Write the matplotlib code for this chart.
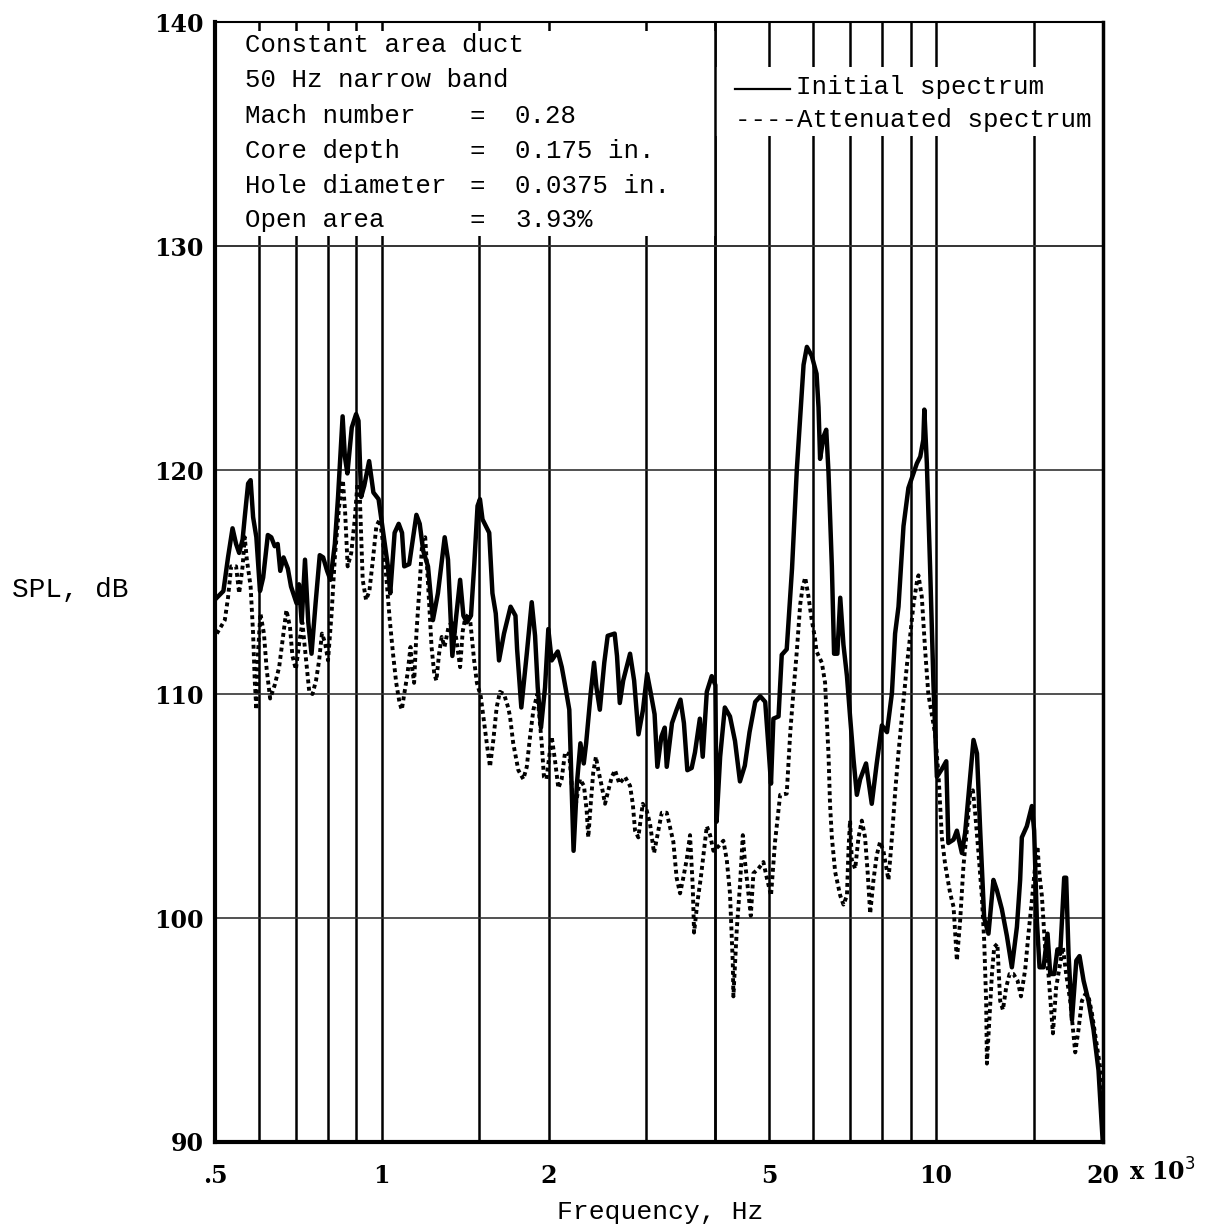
import numpy as np
import matplotlib
matplotlib.use("Agg")
import matplotlib.pyplot as plt
from matplotlib.patches import Rectangle

# frequency in kHz, SPL in dB
init_freq = [0.504, 0.518, 0.528, 0.538, 0.546, 0.553, 0.561, 0.566, 0.574, 0.580,
             0.586, 0.594, 0.603, 0.611, 0.623, 0.632, 0.641, 0.649, 0.656, 0.665,
             0.677, 0.686, 0.702, 0.709, 0.717, 0.727, 0.737, 0.747, 0.760, 0.773,
             0.784, 0.797, 0.808, 0.823, 0.834, 0.850, 0.858, 0.867, 0.883, 0.899,
             0.908, 0.918, 0.930, 0.949, 0.966, 0.987, 1.005, 1.026, 1.036, 1.055,
             1.073, 1.088, 1.098, 1.121, 1.155, 1.171, 1.188, 1.212, 1.237, 1.263,
             1.299, 1.317, 1.341, 1.363, 1.385, 1.404, 1.424, 1.449, 1.469, 1.489,
             1.504, 1.520, 1.563, 1.584, 1.606, 1.628, 1.662, 1.708, 1.743, 1.755,
             1.786, 1.827, 1.865, 1.891, 1.912, 1.938, 1.971, 1.998, 2.026, 2.078,
             2.113, 2.149, 2.180, 2.219, 2.250, 2.283, 2.315, 2.338, 2.382, 2.416,
             2.440, 2.475, 2.521, 2.557, 2.632, 2.658, 2.689, 2.727, 2.806, 2.854,
             2.906, 2.961, 3.012, 3.055, 3.107, 3.143, 3.196, 3.241, 3.268, 3.34,
             3.405, 3.46, 3.51, 3.56, 3.625, 3.675, 3.75, 3.795, 3.86, 3.94,
             4.00, 4.02, 4.08, 4.16, 4.25, 4.34, 4.43, 4.52, 4.61, 4.72,
             4.82, 4.92, 4.985, 5.04, 5.09, 5.20, 5.27, 5.38, 5.50, 5.61,
             5.69, 5.77, 5.85, 5.97, 6.09, 6.14, 6.18, 6.27, 6.34, 6.40,
             6.49, 6.55, 6.64, 6.72, 6.81, 6.91, 7.00, 7.10, 7.20, 7.30,
             7.48, 7.66, 7.82, 7.99, 8.16, 8.33, 8.44, 8.56, 8.74, 8.92,
             9.11, 9.24, 9.37, 9.49, 9.53, 9.63, 9.76, 9.90, 10.04, 10.25,
             10.44, 10.53, 10.76, 10.91, 11.14, 11.29, 11.69, 11.86, 12.02, 12.22,
             12.44, 12.70, 12.88, 13.15, 13.43, 13.71, 14.00, 14.19, 14.29, 14.59,
             14.90, 15.04, 15.21, 15.38, 15.64, 15.90, 16.08, 16.35, 16.57, 16.76,
             17.04, 17.18, 17.35, 17.60, 17.92, 18.16, 18.47, 18.85, 19.25, 19.65,
             20.0]
init_spl = [114.3, 114.6, 116.1, 117.4, 116.7, 116.3, 116.9, 117.9, 119.4, 119.55,
            117.9, 117.0, 114.6, 115.2, 117.1, 117.0, 116.6, 116.7, 115.5, 116.1,
            115.6, 114.8, 114.05, 114.9, 113.2, 116.0, 113.2, 111.8, 114.1, 116.2,
            116.1, 115.5, 115.1, 116.7, 118.8, 122.4, 120.6, 119.85, 121.9, 122.5,
            122.2, 118.8, 119.3, 120.4, 119.0, 118.7, 117.3, 115.7, 114.5, 117.2,
            117.6, 117.2, 115.7, 115.8, 118.0, 117.6, 116.4, 115.7, 113.3, 114.5,
            117.0, 116.0, 111.7, 113.5, 115.1, 113.5, 113.2, 113.5, 115.8, 118.4,
            118.7, 117.8, 117.2, 114.5, 113.6, 111.5, 112.7, 113.9, 113.5, 112.0,
            109.4, 111.8, 114.1, 112.6, 110.3, 108.5, 110.3, 112.9, 111.5, 111.9,
            111.2, 110.2, 109.3, 103.0, 106.0, 107.8, 106.9, 107.8, 110.0, 111.4,
            110.3, 109.3, 111.4, 112.6, 112.7, 111.7, 109.6, 110.6, 111.8, 110.6,
            108.2, 109.3, 110.9, 110.1, 109.1, 106.75, 108.1, 108.5, 106.75, 108.7,
            109.3, 109.75, 108.7, 106.6, 106.7, 107.4, 108.9, 107.2, 110.1, 110.8,
            110.4, 104.3, 107.2, 109.4, 109.0, 107.9, 106.1, 106.8, 108.3, 109.65,
            109.9, 109.65, 107.7, 106.0, 108.9, 109.0, 111.75, 112.0, 115.6, 120.0,
            122.4, 124.7, 125.5, 125.1, 124.3, 122.8, 120.5, 121.5, 121.8, 119.9,
            115.7, 111.8, 111.8, 114.3, 112.2, 110.8, 109.0, 107.1, 105.5, 106.2,
            106.9, 105.1, 106.9, 108.6, 108.3, 110.05, 112.7, 113.9, 117.5, 119.2,
            119.85, 120.3, 120.6, 121.35, 122.7, 120.3, 115.7, 110.4, 106.3, 106.65,
            107.0, 103.35, 103.5, 103.9, 102.9, 103.8, 107.95, 107.35, 103.9, 100.0,
            99.3, 101.7, 101.25, 100.4, 99.2, 97.8, 99.6, 101.7, 103.6, 104.1,
            105.0, 103.9, 99.9, 97.8, 97.8, 99.3, 97.5, 97.5, 98.6, 98.4,
            101.8, 101.8, 98.4, 95.45, 98.1, 98.3, 97.2, 96.3, 95.0, 93.2,
            90.0]

att_freq = [0.504, 0.521, 0.528, 0.535, 0.546, 0.553, 0.561, 0.566, 0.571, 0.580,
            0.586, 0.590, 0.594, 0.598, 0.604, 0.613, 0.620, 0.629, 0.641, 0.653,
            0.664, 0.673, 0.683, 0.690, 0.700, 0.710, 0.719, 0.729, 0.740, 0.750,
            0.761, 0.771, 0.780, 0.790, 0.800, 0.812, 0.823, 0.838, 0.851, 0.859,
            0.868, 0.881, 0.894, 0.904, 0.913, 0.924, 0.937, 0.950, 0.964, 0.978,
            0.992, 1.006, 1.020, 1.034, 1.048, 1.062, 1.077, 1.087, 1.098, 1.113,
            1.127, 1.134, 1.144, 1.155, 1.170, 1.184, 1.198, 1.213, 1.230, 1.244,
            1.255, 1.269, 1.283, 1.298, 1.320, 1.345, 1.362, 1.385, 1.400, 1.415,
            1.44, 1.468, 1.485, 1.509, 1.525, 1.550, 1.568, 1.590, 1.612, 1.634,
            1.662, 1.691, 1.704, 1.727, 1.764, 1.801, 1.827, 1.852, 1.878, 1.909,
            1.944, 1.962, 1.983, 2.026, 2.054, 2.083, 2.112, 2.142, 2.180, 2.211,
            2.241, 2.279, 2.317, 2.343, 2.359, 2.383, 2.408, 2.435, 2.459, 2.494,
            2.529, 2.564, 2.601, 2.636, 2.684, 2.748, 2.806, 2.838, 2.865, 2.904,
            2.958, 3.007, 3.049, 3.100, 3.156, 3.201, 3.268, 3.359, 3.405, 3.454,
            3.501, 3.55, 3.600, 3.641, 3.661, 3.712, 3.765, 3.806, 3.86, 3.913,
            3.967, 4.051, 4.135, 4.194, 4.25, 4.300, 4.311, 4.372, 4.43, 4.483,
            4.52, 4.589, 4.634, 4.685, 4.782, 4.883, 4.952, 5.04, 5.125, 5.235,
            5.38, 5.46, 5.53, 5.61, 5.69, 5.75, 5.81, 5.885, 5.97, 6.05,
            6.09, 6.225, 6.31, 6.35, 6.40, 6.44, 6.49, 6.58, 6.72, 6.81,
            6.91, 6.955, 7.00, 7.05, 7.15, 7.25, 7.35, 7.45, 7.53, 7.61,
            7.715, 7.82, 7.93, 8.04, 8.21, 8.33, 8.44, 8.56, 8.74, 8.865,
            8.99, 9.11, 9.24, 9.30, 9.43, 9.56, 9.69, 9.83, 9.97, 10.11,
            10.25, 10.39, 10.61, 10.76, 10.91, 11.06, 11.21, 11.37, 11.53, 11.66,
            11.77, 11.935, 12.10, 12.22, 12.32, 12.36, 12.50, 12.62, 12.74, 12.91,
            13.06, 13.21, 13.39, 13.58, 13.80, 14.04, 14.24, 14.49, 14.69, 14.90,
            15.10, 15.25, 15.38, 15.53, 15.74, 15.96, 16.26, 16.48, 16.71, 16.95,
            17.18, 17.47, 17.84, 18.08, 18.34, 18.60, 18.85, 19.12, 19.52, 19.93,
            20.0]
att_spl = [112.7, 113.3, 114.3, 115.7, 115.7, 114.5, 115.7, 117.0, 116.0, 114.8,
           112.7, 110.6, 109.3, 111.8, 113.6, 112.7, 111.1, 109.8, 110.4, 111.2,
           112.6, 113.75, 113.0, 111.7, 111.1, 112.3, 113.2, 111.7, 110.1, 110.0,
           110.6, 111.5, 112.7, 112.3, 111.5, 113.6, 116.1, 118.4, 119.55, 118.1,
           115.7, 116.3, 117.8, 119.4, 118.8, 115.1, 114.2, 114.6, 116.0, 117.5,
           117.8, 116.7, 115.1, 113.3, 111.8, 110.5, 109.6, 109.3, 110.0, 110.9,
           112.1, 111.2, 110.5, 112.7, 114.8, 116.9, 117.0, 114.8, 112.1, 110.9,
           110.6, 111.8, 112.55, 112.1, 113.0, 113.3, 112.5, 111.2, 112.8, 113.4,
           113.6, 111.5, 110.5, 109.9, 109.0, 107.65, 106.75, 107.95, 109.4, 110.1,
           110.0, 109.4, 109.0, 107.8, 106.6, 106.2, 106.75, 108.1, 109.3, 110.0,
           107.8, 106.3, 106.2, 108.1, 107.05, 105.8, 106.2, 107.4, 107.3, 105.4,
           105.1, 106.2, 105.9, 104.8, 103.6, 105.1, 106.5, 107.2, 106.6, 105.9,
           105.1, 105.7, 106.3, 106.6, 106.0, 106.3, 105.9, 105.1, 103.9, 103.6,
           105.1, 104.8, 104.2, 102.9, 103.9, 104.7, 104.7, 103.4, 101.8, 101.1,
           101.8, 102.6, 103.7, 101.4, 99.35, 100.7, 101.8, 102.8, 104.1, 103.7,
           103.0, 103.2, 103.45, 102.6, 101.1, 98.0, 96.5, 99.5, 101.45, 103.7,
           102.6, 101.1, 100.1, 102.0, 102.2, 102.5, 101.8, 101.0, 103.4, 105.5,
           105.55, 108.3, 110.05, 111.9, 114.0, 114.8, 115.2, 114.4, 113.3, 112.5,
           111.9, 111.4, 110.5, 109.0, 107.3, 105.1, 103.6, 102.05, 101.0, 100.6,
           101.0, 103.1, 104.35, 102.6, 102.2, 103.6, 104.35, 103.6, 102.05, 100.2,
           101.7, 102.8, 103.4, 103.0, 101.7, 103.6, 105.6, 107.4, 109.7, 111.3,
           112.65, 114.0, 115.0, 115.3, 114.35, 112.0, 110.0, 109.1, 108.2, 106.35,
           103.6, 102.4, 101.1, 100.5, 98.1, 99.9, 102.3, 103.9, 105.6, 105.7,
           104.7, 102.9, 101.0, 99.0, 96.3, 93.5, 95.7, 97.5, 98.7, 98.85,
           96.3, 95.9, 96.9, 97.5, 97.5, 97.2, 96.5, 97.7, 99.3, 100.8,
           102.3, 103.2, 101.9, 101.0, 98.7, 97.5, 94.85, 96.9, 97.8, 98.7,
           97.5, 96.3, 94.0, 95.0, 96.3, 96.6, 96.5, 95.75, 94.3, 92.8,
           91.2]

grid_freq = [0.6, 0.7, 0.8, 0.9, 1, 1.5, 2, 3, 4, 5, 6, 7, 8, 9, 10, 15]
grid_spl = [100, 110, 120, 130]
xtick_vals = [0.5, 1, 2, 5, 10, 20]
xtick_text = [".5", "1", "2", "5", "10", "20"]
ytick_vals = [90, 100, 110, 120, 130, 140]

info_labels = ["Mach number", "Core depth", "Hole diameter", "Open area"]
info_values = ["0.28", "0.175 in.", "0.0375 in.", "3.93%"]

TYPE = "Liberation Mono"
TICK = {"family": "DejaVu Serif", "weight": "bold", "size": 17}

fig = plt.figure(figsize=(12.28, 12.29), dpi=100)
ax = fig.add_axes([0.175, 0.0708, 0.723, 0.9112])
ax.set_xscale("log")
ax.set_xlim(0.5, 20)
ax.set_ylim(90, 140)

# grid: vertical lines heavy, horizontal lighter
for f in grid_freq:
    ax.axvline(f, color="black", lw=1.8, zorder=1)
for s in grid_spl:
    ax.axhline(s, color="#333333", lw=1.2, zorder=1)

# blank areas behind the notes and the legend
ax.add_patch(Rectangle((0.5, 130.45), 3.5, 9.15, facecolor="white",
                       edgecolor="none", zorder=2))
ax.add_patch(Rectangle((4, 134.9), 16, 3.1, facecolor="white",
                       edgecolor="none", zorder=2))
ax.axvline(4, color="black", lw=1.8, zorder=2.5)
ax.axhline(130, color="#333333", lw=1.2, zorder=2.5)

ax.plot(init_freq, init_spl, color="black", lw=3.2, zorder=3,
        solid_joinstyle="round")
ax.plot(att_freq, att_spl, color="black", lw=2.8, zorder=3,
        dashes=(1.0, 0.9))

ax.set_xticks(xtick_vals)
ax.set_xticklabels(xtick_text, fontdict=TICK)
ax.xaxis.set_minor_locator(matplotlib.ticker.NullLocator())
ax.set_yticks(ytick_vals)
ax.set_yticklabels([str(v) for v in ytick_vals], fontdict=TICK)
ax.tick_params(axis="both", length=0)
ax.tick_params(axis="x", pad=16)
ax.tick_params(axis="y", pad=8)

for side, lw in [("left", 3.0), ("bottom", 3.0), ("top", 1.5), ("right", 2.5)]:
    ax.spines[side].set_linewidth(lw)
    ax.spines[side].set_zorder(4)

ax.text(1.03, -0.0268, "x 10$^{3}$", transform=ax.transAxes, ha="left",
        va="center", fontsize=17, fontweight="bold", family="DejaVu Serif")

# notes box
tx = dict(transform=ax.transAxes, family=TYPE, fontsize=18.5, va="center", zorder=5)
ax.text(0.034, 0.9795, "Constant area duct", **tx)
ax.text(0.034, 0.948, "50 Hz narrow band", **tx)
for i, (lab, val) in enumerate(zip(info_labels, info_values)):
    y = 0.916 - i * 0.031
    ax.text(0.034, y, lab, **tx)
    ax.text(0.287, y, "=", **tx)
    ax.text(0.338, y, val, **tx)

# legend
ax.plot([0.5856, 0.6475], [0.940, 0.940], transform=ax.transAxes,
        color="black", lw=1.6, zorder=5)
ax.text(0.655, 0.942, "Initial spectrum", **tx)
ax.text(0.5856, 0.9125, "----Attenuated spectrum", **tx)

fig.text(12 / 1228, 1 - 590 / 1229, "SPL, dB", family=TYPE, fontsize=20,
         ha="left", va="center")
fig.text(660 / 1228, 1 - 1212 / 1229, "Frequency, Hz", family=TYPE,
         fontsize=19, ha="center", va="center")

fig.savefig("out.png", dpi=100)
